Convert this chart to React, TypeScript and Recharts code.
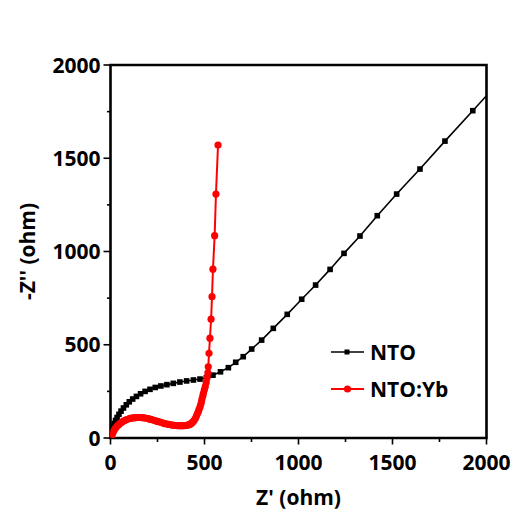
import React from 'react';
import {
  ScatterChart,
  Scatter,
  XAxis,
  YAxis,
  ReferenceArea,
  Legend,
} from 'recharts';

// NTO spectrum (Z', -Z'')
const ntoRe = [0, 2, 5, 9, 14, 20, 27, 35, 45, 56, 69, 84, 100, 118, 138, 160, 184, 210, 238, 268, 300, 334, 369, 405, 441, 476, 510, 545, 585, 627, 666, 706, 751, 804, 866, 940, 1017, 1091, 1168, 1242, 1327, 1419, 1522, 1646, 1779, 1927, 2090];
const ntoIm = [0, 14, 30, 46, 62, 78, 94, 110, 127, 144, 161, 178, 194, 209, 223, 237, 250, 261, 271, 279, 286, 293, 300, 306, 311, 316, 324, 337, 355, 377, 406, 436, 477, 525, 588, 663, 744, 820, 904, 990, 1083, 1192, 1308, 1442, 1592, 1755, 1935];

// NTO:Yb spectrum (Z', -Z'')
const ybRe = [0, 3, 6, 10, 15, 20, 26, 32, 39, 46, 54, 62, 70, 78, 86, 95, 104, 113, 122, 131, 140, 150, 160, 170, 180, 190, 200, 210, 220, 230, 240, 250, 260, 270, 280, 290, 300, 310, 320, 330, 340, 350, 360, 370, 380, 390, 398, 406, 414, 421, 428, 434, 440, 446, 452, 457, 462, 467, 471, 476, 480, 484, 487, 491, 494, 499, 504, 509, 514, 518, 520, 524, 529, 535, 540, 545, 554, 561, 572];
const ybIm = [0, 7, 14, 22, 32, 43, 52, 60, 67, 74, 80, 86, 91, 95, 99, 102, 105, 107, 108, 109, 110, 110, 110, 109, 108, 106, 104, 101, 98, 95, 92, 89, 86, 83, 80, 77, 75, 73, 71, 69, 68, 67, 66, 66, 66, 66, 67, 68, 70, 73, 77, 82, 88, 96, 106, 118, 130, 141, 153, 166, 180, 195, 210, 225, 240, 258, 275, 298, 323, 350, 382, 454, 535, 637, 758, 905, 1085, 1308, 1571];

const xTicks = [0, 250, 500, 750, 1000, 1250, 1500, 1750, 2000];
const yTicks = [0, 250, 500, 750, 1000, 1250, 1500, 1750, 2000];

const ntoData = ntoRe.map((x, i) => ({ x, y: ntoIm[i] }));
const ybData = ybRe.map((x, i) => ({ x, y: ybIm[i] }));

const FONT = '"Open Sans", sans-serif';
const LEFT = 110.5;
const BOTTOM = 438;

const XTick = (props: any) => {
  const { x, payload } = props;
  const major = payload.value % 500 === 0;
  return (
    <g>
      <line x1={x} x2={x} y1={BOTTOM} y2={BOTTOM + (major ? 6.5 : 4)} stroke="#000" strokeWidth={1.6} />
      {major && (
        <text x={x} y={BOTTOM + 17} dy="0.71em" textAnchor="middle" fontFamily={FONT} fontWeight="bold" fontSize={21} fill="#000">
          {payload.value}
        </text>
      )}
    </g>
  );
};

const YTick = (props: any) => {
  const { y, payload } = props;
  const major = payload.value % 500 === 0;
  return (
    <g>
      <line x1={LEFT - (major ? 7 : 3.5)} x2={LEFT} y1={y} y2={y} stroke="#000" strokeWidth={1.6} />
      {major && (
        <text x={LEFT - 10} y={y} dy="0.36em" textAnchor="end" fontFamily={FONT} fontWeight="bold" fontSize={21} fill="#000">
          {payload.value}
        </text>
      )}
    </g>
  );
};

const Square = (props: any) => {
  const { cx, cy } = props;
  return <rect x={cx - 2.8} y={cy - 2.8} width={5.6} height={5.6} fill="#000" />;
};

const Dot = (props: any) => {
  const { cx, cy } = props;
  return <circle cx={cx} cy={cy} r={3.6} fill="#ff0000" />;
};

const LegendBox = () => (
  <svg width={140} height={70} style={{ overflow: 'visible', display: 'block' }}>
    <line x1={1} x2={34} y1={12} y2={12} stroke="#000" strokeWidth={1.6} />
    <rect x={14.5} y={9.5} width={5} height={5} fill="#000" />
    <text x={40} y={12} dy="0.36em" fontFamily={FONT} fontWeight="bold" fontSize={21} fill="#000">NTO</text>
    <line x1={1} x2={34} y1={49} y2={49} stroke="#ff0000" strokeWidth={2} />
    <circle cx={17.5} cy={49} r={3.6} fill="#ff0000" />
    <text x={40} y={49} dy="0.36em" fontFamily={FONT} fontWeight="bold" fontSize={21} fill="#000">NTO:Yb</text>
  </svg>
);

export default function App() {
  return (
    <div style={{ position: 'absolute', left: 0, top: 0, width: 520, height: 518, background: '#fff' }}>
      <ScatterChart width={520} height={518} margin={{ top: 65, right: 33.5, bottom: 0, left: 0 }}>
        <XAxis
          type="number"
          dataKey="x"
          domain={[0, 2000]}
          ticks={xTicks}
          allowDataOverflow
          axisLine={false}
          tickLine={false}
          tick={<XTick />}
          height={80}
          interval={0}
        />
        <YAxis
          type="number"
          dataKey="y"
          domain={[0, 2000]}
          ticks={yTicks}
          allowDataOverflow
          axisLine={false}
          tickLine={false}
          tick={<YTick />}
          width={110.5}
          interval={0}
        />
        <ReferenceArea x1={0} x2={2000} y1={0} y2={2000} fill="none" stroke="#000" strokeWidth={2.6} />
        <Legend
          layout="vertical"
          align="center"
          verticalAlign="middle"
          content={<LegendBox />}
          wrapperStyle={{ position: 'absolute', left: 330, top: 340, width: 140, height: 70 }}
        />
        <Scatter
          name="NTO"
          data={ntoData}
          line={{ stroke: '#000', strokeWidth: 1.6 }}
          lineType="joint"
          shape={<Square />}
          fill="#000"
          isAnimationActive={false}
        />
        <Scatter
          name="NTO:Yb"
          data={ybData}
          line={{ stroke: '#ff0000', strokeWidth: 2 }}
          lineType="joint"
          shape={<Dot />}
          fill="#ff0000"
          isAnimationActive={false}
        />
      </ScatterChart>
      <svg width={520} height={518} style={{ position: 'absolute', left: 0, top: 0, pointerEvents: 'none' }}>
        <text x={298.5} y={505} textAnchor="middle" fontFamily={FONT} fontWeight="bold" fontSize={21} fill="#000">
          Z' (ohm)
        </text>
        <text x={27} y={251.5} dy="0.36em" textAnchor="middle" transform="rotate(-90 27 251.5)" fontFamily={FONT} fontWeight="bold" fontSize={21} fill="#000">
          -Z'' (ohm)
        </text>
      </svg>
    </div>
  );
}
